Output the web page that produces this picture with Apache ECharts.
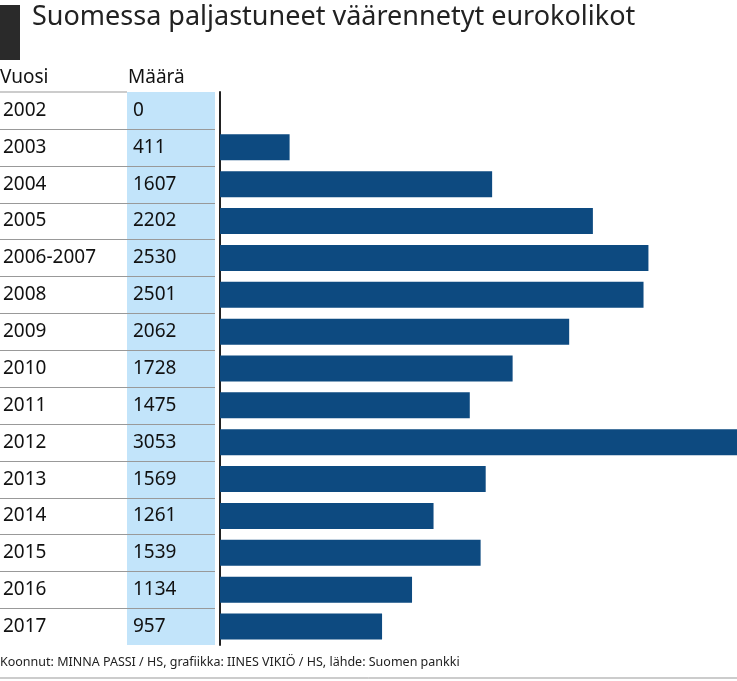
<!DOCTYPE html>
<html><head><meta charset="utf-8">
<script src="https://cdn.jsdelivr.net/npm/echarts@6/dist/echarts.min.js"></script>
<style>html,body{margin:0;padding:0;background:#fff}#c{width:737px;height:681px}</style>
</head><body><div id="c"></div>
<script>
const years=['2002','2003','2004','2005','2006-2007','2008','2009','2010','2011','2012','2013','2014','2015','2016','2017'];
const values=[0,411,1607,2202,2530,2501,2062,1728,1475,3053,1569,1261,1539,1134,957];
const title='Suomessa paljastuneet väärennetyt eurokolikot';
const headers=['Vuosi','Määrä'];
const source='Koonnut: MINNA PASSI / HS, grafiikka: IINES VIKIÖ / HS, lähde: Suomen pankki';
const F='"Noto Sans", sans-serif';
const chart=echarts.init(document.getElementById('c'));
const gTop=92,gBottom=645;
chart.setOption({
  animation:false,
  grid:{left:217,right:0,top:gTop,bottom:681-gBottom},
  xAxis:{type:'value',min:0,max:3053,show:false},
  yAxis:[
    {type:'category',data:years,inverse:true,axisTick:{show:false},
     axisLine:{lineStyle:{color:'#222',width:2}},
     axisLabel:{align:'left',margin:217,fontFamily:F,fontSize:19,color:'#111'}},
    {type:'category',data:values.map(String),inverse:true,position:'left',axisTick:{show:false},axisLine:{show:false},
     axisLabel:{align:'left',margin:87,fontFamily:F,fontSize:19,color:'#111'}}
  ],
  series:[{type:'bar',data:values,barWidth:26,itemStyle:{color:'#0d4a80'},silent:true,z:3}]
});
const g=[
  {type:'rect',shape:{x:0,y:5,width:20,height:55},style:{fill:'#2a2a2a'}},
  {type:'text',x:32,y:4,style:{text:title,fontFamily:F,fontSize:27,fill:'#222'}},
  {type:'text',x:0,y:68,style:{text:headers[0],fontFamily:F,fontSize:19,fill:'#111'}},
  {type:'text',x:128,y:68,style:{text:headers[1],fontFamily:F,fontSize:19,fill:'#111'}},
  {type:'rect',z:-1,shape:{x:127,y:gTop,width:88,height:gBottom-gTop},style:{fill:'#c2e4fa'}},
  {type:'line',shape:{x1:0,y1:gTop,x2:127,y2:gTop},style:{stroke:'#999',lineWidth:1}},
  {type:'text',x:0,y:656,style:{text:source,fontFamily:F,fontSize:12.5,fill:'#222'}},
  {type:'line',shape:{x1:0,y1:678,x2:737,y2:678},style:{stroke:'#999',lineWidth:1}}
];
for(let i=0;i<years.length-1;i++){
  const a=chart.convertToPixel({yAxisIndex:0},i),b=chart.convertToPixel({yAxisIndex:0},i+1);
  const y=Math.round((a+b)/2)+0.5;
  g.push({type:'line',shape:{x1:0,y1:y,x2:215,y2:y},style:{stroke:'#999',lineWidth:1}});
}
chart.setOption({graphic:g});
</script></body></html>
